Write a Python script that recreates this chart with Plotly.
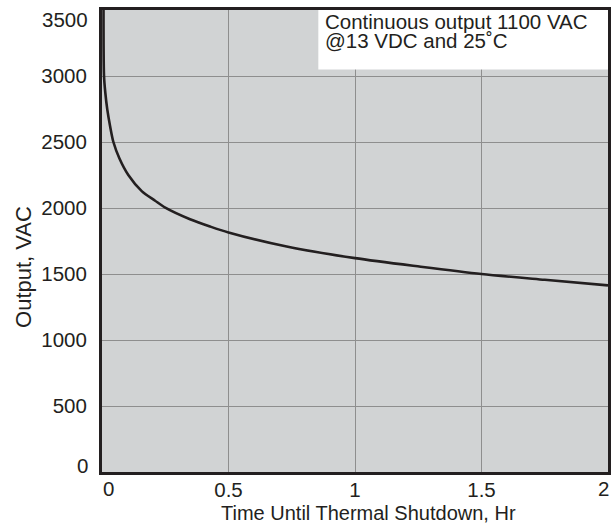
import plotly.graph_objects as go

# Output voltage vs. time until thermal shutdown
hours = [0.006, 0.008, 0.013, 0.021, 0.032, 0.045, 0.069, 0.104, 0.157, 0.21,
         0.25, 0.348, 0.427, 0.5, 0.73, 1.0, 1.26, 1.5, 1.75, 2.0]
output_vac = [3500, 3000, 2875, 2745, 2620, 2500, 2375, 2250, 2128, 2055,
              2003, 1915, 1860, 1815, 1708, 1620, 1555, 1500, 1456, 1414]

x_ticks = [0, 0.5, 1, 1.5, 2]
x_tick_labels = ["0", "0.5", "1", "1.5", "2"]
y_ticks = [0, 500, 1000, 1500, 2000, 2500, 3000, 3500]
y_tick_labels = ["0", "500", "1000", "1500", "2000", "2500", "3000", "3500"]

note_lines = ["Continuous output 1100 VAC", "@13 VDC and 25˚C"]

FONT = "Liberation Sans, Arial, Helvetica, sans-serif"
INK = "#231f20"
GRID = "#8e8e8e"
TICK_FONT = dict(family=FONT, size=20.5, color=INK)

fig = go.Figure()
fig.add_trace(go.Scatter(
    x=hours, y=output_vac, mode="lines",
    line=dict(color=INK, width=2.6, shape="spline", smoothing=0.8),
    showlegend=False, hoverinfo="skip",
))

# white note box in the upper right corner of the plot
fig.add_shape(type="rect", xref="x", yref="y", x0=0.855, x1=2.0, y0=3050, y1=3500,
              fillcolor="white", line=dict(width=0), layer="above")
for i, line in enumerate(note_lines):
    fig.add_annotation(xref="x", yref="y", x=0.875, y=3415 - i * 146,
                       xanchor="left", yanchor="middle", text=line,
                       showarrow=False, align="left",
                       font=dict(family=FONT, size=20.5, color=INK))

# end tick labels are nudged inward so they stay clear of the page edge
fig.add_annotation(xref="paper", yref="y", x=0, y=y_ticks[-1], xanchor="right",
                   yanchor="middle", xshift=-12, yshift=-9, showarrow=False,
                   text=y_tick_labels[-1], font=TICK_FONT)
fig.add_annotation(xref="paper", yref="y", x=0, y=y_ticks[0], xanchor="right",
                   yanchor="middle", xshift=-12, yshift=7, showarrow=False,
                   text=y_tick_labels[0], font=TICK_FONT)
fig.add_annotation(xref="x", yref="paper", x=x_ticks[0], y=0, xanchor="center",
                   yanchor="top", xshift=6, yshift=-3, showarrow=False,
                   text=x_tick_labels[0], font=TICK_FONT)
fig.add_annotation(xref="x", yref="paper", x=x_ticks[-1], y=0, xanchor="center",
                   yanchor="top", xshift=-5, yshift=-3, showarrow=False,
                   text=x_tick_labels[-1], font=TICK_FONT)

# axis titles
fig.add_annotation(xref="paper", yref="paper", x=0.526, y=-0.088,
                   xanchor="center", yanchor="middle", showarrow=False,
                   text="Time Until Thermal Shutdown, Hr",
                   font=dict(family=FONT, size=20, color=INK))
fig.add_annotation(xref="paper", yref="paper", x=-0.154, y=0.444,
                   xanchor="center", yanchor="middle", showarrow=False,
                   textangle=-90, text="Output, VAC",
                   font=dict(family=FONT, size=22, color=INK))

axis_common = dict(
    showline=True, mirror=True, linecolor=INK, linewidth=3,
    showgrid=True, gridcolor=GRID, gridwidth=1.3, zeroline=False,
    tickfont=TICK_FONT, automargin=False,
)

fig.update_xaxes(range=[0, 2], tickvals=x_ticks[1:-1], ticktext=x_tick_labels[1:-1],
                 ticks="", ticklabelstandoff=-3, **axis_common)
fig.update_yaxes(range=[0, 3500], tickvals=y_ticks[1:-1], ticktext=y_tick_labels[1:-1],
                 ticks="outside", ticklen=8, tickcolor="rgba(0,0,0,0)", **axis_common)

fig.update_layout(
    width=614, height=527,
    margin=dict(l=102, r=6, t=9.5, b=54.5, autoexpand=False),
    paper_bgcolor="white", plot_bgcolor="#d1d3d4",
    font=dict(family=FONT, color=INK),
)

fig.write_html("out.html")
